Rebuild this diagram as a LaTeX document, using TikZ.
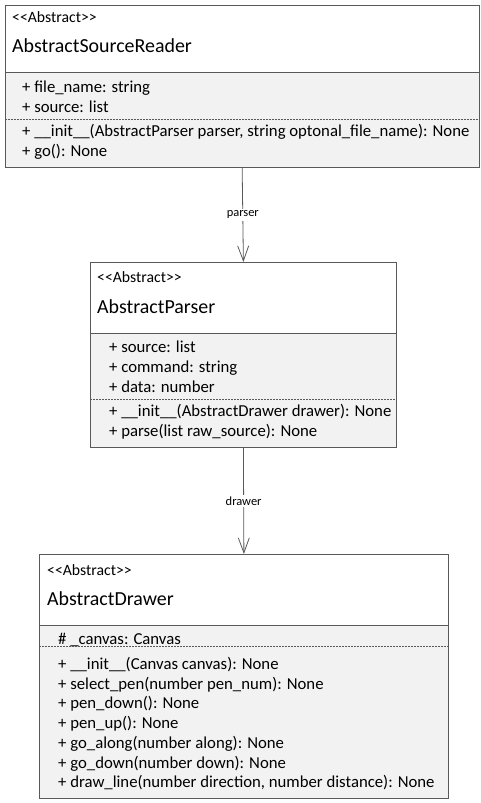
\documentclass[tikz,border=0pt]{standalone}
\usepackage{fontspec}
\setmainfont{Carlito}
\usetikzlibrary{arrows.meta, positioning}
\definecolor{umlline}{HTML}{595959}
\definecolor{umlfill}{HTML}{F2F2F2}
\newcommand{\stereotype}[1]{<\kern0pt<#1>\kern0pt>}

\begin{document}
\begin{tikzpicture}[x=1bp, y=-1bp,
    >={Straight Barb[length=15bp,width=11bp]},
    head/.style={draw=umlline, thick, fill=white, rectangle, inner sep=0pt, anchor=north west},
    body/.style={draw=umlline, thick, fill=umlfill, rectangle, inner sep=0pt, anchor=north west},
    stereo/.style={anchor=base west, inner sep=0pt, font=\fontsize{15.8}{18}\selectfont},
    classname/.style={anchor=base west, inner sep=0pt, font=\fontsize{20}{23}\selectfont},
    member/.style={anchor=base west, inner sep=0pt, font=\fontsize{16.8}{19}\selectfont},
    sep/.style={draw=umlline, dash pattern=on 2bp off 1bp},
    assoc/.style={->, draw=umlline, thick},
    lbl/.style={fill=white, inner sep=2pt, font=\fontsize{12.5}{14}\selectfont}]

    \useasboundingbox (0,0) rectangle (481,803);

    % AbstractSourceReader
    \node[head, minimum width=474.5bp, minimum height=67bp] (sr-head) at (4.5,5) {};
    \node[body, minimum width=474.5bp, minimum height=95bp] (sr-body) at (4.5,72) {};
    \node[stereo]    (sr-st)   at (12,22.5)  {\stereotype{Abstract}};
    \node[classname] (sr-name) at (12,53)    {AbstractSourceReader};
    \node[member]    (sr-a1)   at (22,92.5)  {+ file\_name: string};
    \node[member]    (sr-a2)   at (22,112.5) {+ source: list};
    \node[member]    (sr-o1)   at (22,136.5) {+ \_\_init\_\_(AbstractParser parser, string optonal\_file\_name): None};
    \node[member]    (sr-o2)   at (22,156.5) {+ go(): None};
    \draw[sep] (sr-body.west |- 0,119) -- (sr-body.east |- 0,119);

    % AbstractParser
    \node[head, minimum width=306bp, minimum height=71bp] (ps-head) at (90,262) {};
    \node[body, minimum width=306bp, minimum height=114bp] (ps-body) at (90,333) {};
    \node[stereo]    (ps-st)   at (97,282.5) {\stereotype{Abstract}};
    \node[classname] (ps-name) at (97,313)   {AbstractParser};
    \node[member]    (ps-a1)   at (109,352.5) {+ source: list};
    \node[member]    (ps-a2)   at (109,372.5) {+ command: string};
    \node[member]    (ps-a3)   at (109,392.5) {+ data: number};
    \node[member]    (ps-o1)   at (109,416.5) {+ \_\_init\_\_(AbstractDrawer drawer): None};
    \node[member]    (ps-o2)   at (109,436.5) {+ parse(list raw\_source): None};
    \draw[sep] (ps-body.west |- 0,399) -- (ps-body.east |- 0,399);

    % AbstractDrawer
    \node[head, minimum width=409bp, minimum height=71bp] (dr-head) at (39,554) {};
    \node[body, minimum width=409bp, minimum height=173bp] (dr-body) at (39,625) {};
    \node[stereo]    (dr-st)   at (47,575.5) {\stereotype{Abstract}};
    \node[classname] (dr-name) at (47,605)   {AbstractDrawer};
    \node[member]    (dr-a1)   at (58,644.5) {\# \_canvas: Canvas};
    \node[member]    (dr-o1)   at (58,669.5) {+ \_\_init\_\_(Canvas canvas): None};
    \node[member]    (dr-o2)   at (58,689.5) {+ select\_pen(number pen\_num): None};
    \node[member]    (dr-o3)   at (58,708.5) {+ pen\_down(): None};
    \node[member]    (dr-o4)   at (58,728.5) {+ pen\_up(): None};
    \node[member]    (dr-o5)   at (58,748.5) {+ go\_along(number along): None};
    \node[member]    (dr-o6)   at (58,768.5) {+ go\_down(number down): None};
    \node[member]    (dr-o7)   at (58,787.5) {+ draw\_line(number direction, number distance): None};
    \draw[sep] (dr-body.west |- 0,646) -- (dr-body.east |- 0,646);

    % associations
    \draw[assoc] (sr-body.south) -- node[lbl] (lbl-parser) {parser} (ps-head.north);
    \draw[assoc] (ps-body.south) -- node[lbl] (lbl-drawer) {drawer} (dr-head.north);
\end{tikzpicture}
\end{document}
